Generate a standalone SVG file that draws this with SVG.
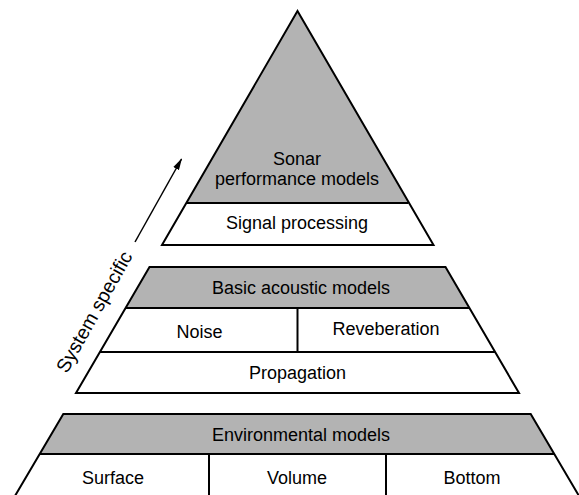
<svg xmlns="http://www.w3.org/2000/svg" width="579" height="495" viewBox="0 0 579 495">
  <style>
    .g { fill: #b3b3b3; stroke: none; }
    .w { fill: #ffffff; stroke: none; }
    .o { fill: none; stroke: #000; stroke-width: 2; stroke-linejoin: miter; }
    .l { stroke: #000; stroke-width: 2; fill: none; }
    text { font-family: "Liberation Sans", Arial, sans-serif; font-size: 18px; fill: #000; text-anchor: middle; }
    .side { font-size: 19.5px; }
  </style>
  <defs>
    <marker id="ah" viewBox="0 0 12 8" refX="11" refY="4" markerWidth="12" markerHeight="8" markerUnits="userSpaceOnUse" orient="auto">
      <path d="M0,0.8 L12,4 L0,7.2 Z" fill="#000"/>
    </marker>
  </defs>
  <rect width="579" height="495" fill="#fff"/>

  <g id="sonar-performance">
    <polygon class="g" points="297.5,11 186.5,203 408.5,203"/>
    <text x="297" y="165">Sonar</text>
    <text x="297" y="185">performance models</text>
  </g>
  <g id="signal-processing">
    <polygon class="w" points="186.5,203 408.5,203 433.5,245 162,245"/>
    <text x="297" y="229">Signal processing</text>
  </g>
  <g id="top-outline">
    <polygon class="o" points="297.5,11 433.5,245 162,245"/>
    <line class="l" x1="186.5" y1="203" x2="408.5" y2="203"/>
  </g>

  <g id="basic-acoustic">
    <polygon class="g" points="149.5,267 445.5,267 469.5,308 125.5,308"/>
    <text x="301" y="294">Basic acoustic models</text>
  </g>
  <g id="noise">
    <text x="199.5" y="338">Noise</text>
  </g>
  <g id="reveberation">
    <text x="386" y="335">Reveberation</text>
  </g>
  <g id="propagation">
    <text x="297.5" y="379">Propagation</text>
  </g>
  <g id="middle-outline">
    <polygon class="o" points="149.5,267 445.5,267 519,393 76,393"/>
    <line class="l" x1="125.5" y1="308" x2="469.5" y2="308"/>
    <line class="l" x1="100" y1="352" x2="495" y2="352"/>
    <line class="l" x1="297.5" y1="308" x2="297.5" y2="352"/>
  </g>

  <g id="environmental">
    <polygon class="g" points="63.3,414 530.7,414 554.3,454 39.7,454"/>
    <text x="301" y="441">Environmental models</text>
  </g>
  <g id="surface">
    <text x="113" y="484">Surface</text>
  </g>
  <g id="volume">
    <text x="297" y="484">Volume</text>
  </g>
  <g id="bottom">
    <text x="472" y="484">Bottom</text>
  </g>
  <g id="bottom-outline">
    <polygon class="o" points="63.3,414 530.7,414 582,501 12,501"/>
    <line class="l" x1="39.7" y1="454" x2="554.3" y2="454"/>
    <line class="l" x1="209" y1="454" x2="209" y2="500"/>
    <line class="l" x1="386" y1="454" x2="386" y2="500"/>
  </g>

  <g id="connectors">
    <line x1="135" y1="242" x2="181.5" y2="159" stroke="#000" stroke-width="1.5" marker-end="url(#ah)"/>
  </g>
  <g id="system-specific">
    <text class="side" x="100" y="315" transform="rotate(-60.8 100 315)">System specific</text>
  </g>
</svg>
